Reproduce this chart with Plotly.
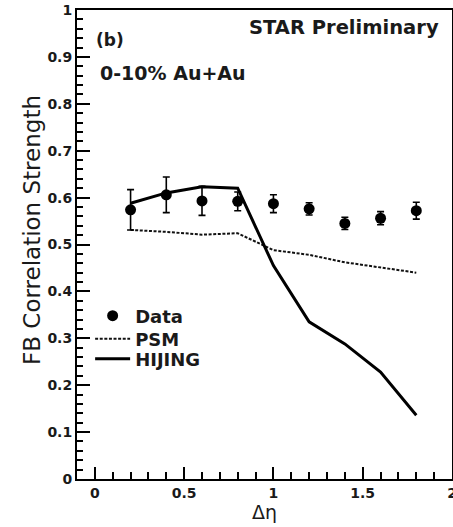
import plotly.graph_objects as go

# ---- data ----
deta = [0.2, 0.4, 0.6, 0.8, 1.0, 1.2, 1.4, 1.6, 1.8]
data_vals = [0.574, 0.606, 0.593, 0.592, 0.587, 0.576, 0.545, 0.556, 0.572]
data_errs = [0.043, 0.038, 0.031, 0.020, 0.019, 0.013, 0.013, 0.014, 0.018]
psm_vals = [0.531, 0.527, 0.521, 0.524, 0.488, 0.478, 0.462, 0.451, 0.440]
hijing_vals = [0.588, 0.610, 0.623, 0.620, 0.455, 0.335, 0.288, 0.228, 0.136]

x_ticks = [0, 0.5, 1, 1.5, 2]
x_tick_labels = ["0", "0.5", "1", "1.5", "2"]
y_ticks = [0, 0.1, 0.2, 0.3, 0.4, 0.5, 0.6, 0.7, 0.8, 0.9, 1]
y_tick_labels = ["0", "0.1", "0.2", "0.3", "0.4", "0.5", "0.6", "0.7", "0.8", "0.9", "1"]

FONT = "DejaVu Sans, Verdana, sans-serif"
TXT = "#1a1a1a"

fig = go.Figure()

fig.add_trace(go.Scatter(
    x=deta, y=psm_vals, mode="lines", name="PSM", legend="legend2",
    line=dict(color="#111111", width=2, dash="3px,1.6px"),
))
fig.add_trace(go.Scatter(
    x=deta, y=hijing_vals, mode="lines", name="HIJING", legend="legend3",
    line=dict(color="black", width=3),
))
fig.add_trace(go.Scatter(
    x=deta, y=data_vals, mode="markers", name="Data", legend="legend",
    marker=dict(symbol="circle", size=11, color="black"),
    error_y=dict(type="data", array=data_errs, visible=True,
                 color="black", thickness=1.6, width=3.5),
))

axis_common = dict(
    showgrid=False, zeroline=False, automargin=False,
    showline=True, linecolor="black", linewidth=2, mirror=True,
    ticks="inside", tickcolor="black", tickwidth=2,
    ticklabeloverflow="allow",
    tickfont=dict(family=FONT, size=14, color=TXT, weight="bold"),
)

fig.update_xaxes(
    range=[-0.1, 2.0],
    tickmode="array", tickvals=x_ticks, ticktext=x_tick_labels,
    ticklen=12,
    minor=dict(ticks="inside", ticklen=7, dtick=0.1, tickcolor="black", tickwidth=2),
    title=dict(text="Δη", font=dict(family=FONT, size=19, color=TXT), standoff=0),
    **axis_common,
)
fig.update_yaxes(
    range=[0, 1.0],
    tickmode="array", tickvals=y_ticks, ticktext=y_tick_labels,
    ticklen=13,
    minor=dict(ticks="inside", ticklen=6, dtick=0.02, tickcolor="black", tickwidth=2),
    **axis_common,
)

# y-axis title (placed slightly above centre, as in the original)
fig.add_annotation(x=-0.12, y=0.531, xref="paper", yref="paper", xanchor="center", yanchor="middle",
                   text="FB Correlation Strength", showarrow=False, textangle=-90,
                   font=dict(family=FONT, size=23, color=TXT))

fig.add_annotation(x=0.97, y=0.962, xref="paper", yref="paper", xanchor="right", yanchor="middle",
                   text="STAR Preliminary", showarrow=False,
                   font=dict(family=FONT, size=19.5, color=TXT, weight="bold"))
fig.add_annotation(x=0.045, y=0.936, xref="paper", yref="paper", xanchor="left", yanchor="middle",
                   text="(b)", showarrow=False,
                   font=dict(family=FONT, size=17, color=TXT, weight="bold"))
fig.add_annotation(x=0.056, y=0.866, xref="paper", yref="paper", xanchor="left", yanchor="middle",
                   text="0-10% Au+Au", showarrow=False,
                   font=dict(family=FONT, size=19, color=TXT, weight="bold"))

leg_common = dict(xanchor="left", yanchor="middle", bgcolor="rgba(0,0,0,0)", borderwidth=0,
                  font=dict(family=FONT, size=18, color=TXT, weight="bold"), itemwidth=35)

fig.update_layout(
    width=453, height=527,
    margin=dict(l=77, r=1, t=10, b=48),
    paper_bgcolor="white", plot_bgcolor="white",
    showlegend=True,
    legend=dict(x=0.035, y=0.3475, **leg_common),
    legend2=dict(x=0.035, y=0.2985, **leg_common),
    legend3=dict(x=0.035, y=0.256, **leg_common),
)

fig.write_html(
    "out.html",
    config={"displayModeBar": False},
    post_script="document.body.style.margin='0';document.body.style.overflow='hidden';",
)
